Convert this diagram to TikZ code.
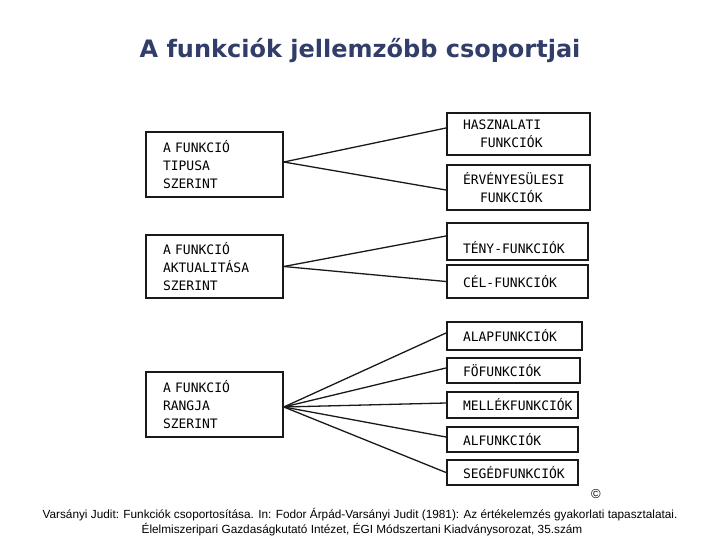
\documentclass[tikz,border=0pt]{standalone}
\usepackage{fontspec}
\setmainfont{Liberation Sans}
\newfontfamily\titlefont{DejaVu Sans}
\newfontfamily\boxfont{DejaVu Sans Mono}
\definecolor{titleblue}{RGB}{50,62,105}
\definecolor{ink}{RGB}{25,25,25}
\begin{document}
\begin{tikzpicture}[x=1pt,y=-1pt,
  box/.style={draw=ink, line width=1.6pt, inner sep=0pt, align=left,
    font=\boxfont\fontsize{13}{18}\selectfont},
  leftbox/.style={box, minimum width=137pt, text width=103pt},
  rightbox/.style={box, line width=2pt},
  conn/.style={draw=ink, line width=1.3pt},
  foot/.style={font=\fontsize{11.8}{13}\selectfont, inner sep=0pt}]
\useasboundingbox (0,0) rectangle (720,540);

\node[font=\titlefont\bfseries\fontsize{24}{28}\selectfont, text=titleblue] (title) at (360,50) {A funkciók jellemzőbb csoportjai};

% left boxes
\node[leftbox, minimum height=65pt] (l1) at (214.5,164.5) {A FUNKCIÓ\\TIPUSA\\SZERINT};
\node[leftbox, minimum height=63pt] (l2) at (214.5,266.5) {A FUNKCIÓ\\AKTUALITÁSA\\SZERINT};
\node[leftbox, minimum height=65pt] (l3) at (214.5,404.5) {A FUNKCIÓ\\RANGJA\\SZERINT};

% right boxes
\node[rightbox, minimum width=143pt, text width=111pt, minimum height=42pt] (r1) at (518.5,134) {HASZNALATI\\\hspace*{17pt}FUNKCIÓK};
\node[rightbox, minimum width=143pt, text width=111pt, minimum height=45pt] (r2) at (518.5,187.5) {ÉRVÉNYESÜLESI\\\hspace*{17pt}FUNKCIÓK};
\node[rightbox, minimum width=141pt, text width=109pt, minimum height=37pt, text height=24pt, text depth=0pt] (r3) at (517.5,241.5) {TÉNY-FUNKCIÓK};
\node[rightbox, minimum width=141pt, text width=109pt, minimum height=33pt] (r4) at (517.5,281.5) {CÉL-FUNKCIÓK};
\node[rightbox, minimum width=135pt, text width=103pt, minimum height=28pt] (r5) at (514.5,336) {ALAPFUNKCIÓK};
\node[rightbox, minimum width=133pt, text width=101pt, minimum height=25pt] (r6) at (513.5,370.5) {FÖFUNKCIÓK};
\node[rightbox, minimum width=131pt, text width=99pt, minimum height=26pt] (r7) at (512.5,405) {MELLÉKFUNKCIÓK};
\node[rightbox, minimum width=131pt, text width=99pt, minimum height=25pt] (r8) at (512.5,439.5) {ALFUNKCIÓK};
\node[rightbox, minimum width=131pt, text width=99pt, minimum height=25pt] (r9) at (512.5,472.5) {SEGÉDFUNKCIÓK};

% connectors
\draw[conn] ([yshift=2.5pt]l1.east) -- ([yshift=6pt]r1.west);
\draw[conn] ([yshift=2.5pt]l1.east) -- ([yshift=-2.5pt]r2.west);
\draw[conn] (l2.east) -- ([yshift=5.5pt]r3.west);
\draw[conn] (l2.east) -- (r4.west);
\draw[conn] ([yshift=-2.5pt]l3.east) -- ([yshift=3pt]r5.west);
\draw[conn] ([yshift=-2.5pt]l3.east) -- ([yshift=2.5pt]r6.west);
\draw[conn] ([yshift=-2.5pt]l3.east) -- ([yshift=2pt]r7.west);
\draw[conn] ([yshift=-2.5pt]l3.east) -- ([yshift=2.5pt]r8.west);
\draw[conn] ([yshift=-2.5pt]l3.east) -- (r9.west);

% copyright and source
\node[font=\fontsize{13}{15}\selectfont, inner sep=0pt] (copy) at (596,494) {©};
\node[foot] (src1) at (360,515) {Varsányi Judit: Funkciók csoportosítása. In: Fodor Árpád-Varsányi Judit (1981): Az értékelemzés gyakorlati tapasztalatai.};
\node[foot] (src2) at (362,530) {Élelmiszeripari Gazdaságkutató Intézet, ÉGI Módszertani Kiadványsorozat, 35.szám};
\end{tikzpicture}
\end{document}
